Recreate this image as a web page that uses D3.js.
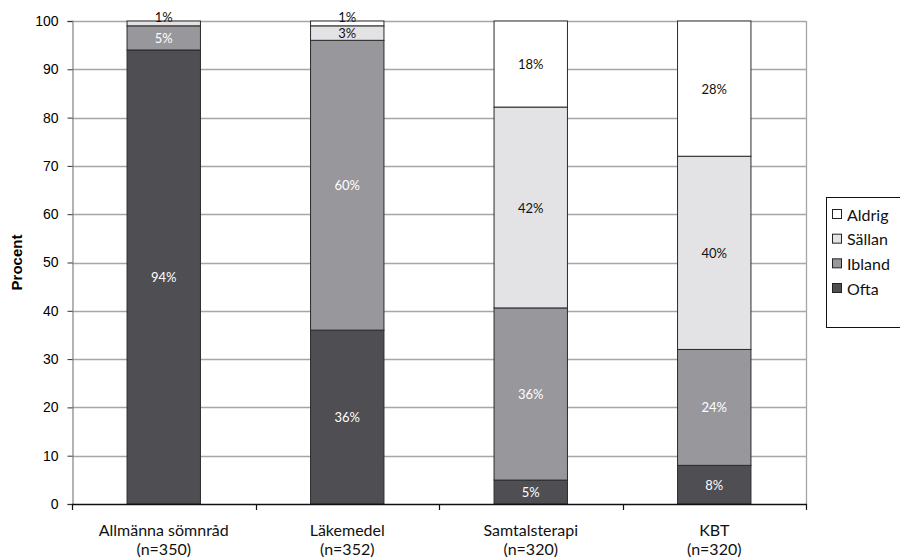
<!DOCTYPE html>
<html>
<head>
<meta charset="utf-8">
<script src="https://cdn.jsdelivr.net/npm/d3@7"></script>
<style>
  html, body { margin: 0; padding: 0; background: #fff; }
  svg { display: block; }
</style>
</head>
<body>
<svg id="chart" width="900" height="560"></svg>
<script>
// Categories (two-line labels) and stacked shares per answer, in percent
const categories = ["Allmänna sömnråd", "Läkemedel", "Samtalsterapi", "KBT"];
const sampleSizes = ["(n=350)", "(n=352)", "(n=320)", "(n=320)"];
const seriesNames = ["Ofta", "Ibland", "Sällan", "Aldrig"];
const ofta   = [94, 36, 5, 8];
const ibland = [5, 60, 36, 24];
const sallan = [1, 3, 42, 40];
const aldrig = [0, 1, 18, 28];
const yTicks = [0, 10, 20, 30, 40, 50, 60, 70, 80, 90, 100];

const colors = { "Ofta": "#4f4e53", "Ibland": "#98979c", "Sällan": "#e3e3e5", "Aldrig": "#ffffff" };
const labelColors = { "Ofta": "#ffffff", "Ibland": "#ffffff", "Sällan": "#111", "Aldrig": "#111" };

const rows = categories.map((c, i) => ({
  cat: c, "Ofta": ofta[i], "Ibland": ibland[i], "Sällan": sallan[i], "Aldrig": aldrig[i]
}));

const svg = d3.select("#chart");
const margin = { left: 72, right: 94, top: 21, bottom: 56 };
const W = 900, H = 560;
const plotR = W - margin.right, plotB = H - margin.bottom;
const labelFont = "Lato, 'Open Sans', sans-serif";

const x = d3.scaleBand().domain(categories).range([margin.left, plotR])
  .paddingInner(0.6).paddingOuter(0.3);
const y = d3.scaleLinear().domain([0, 100]).range([plotB, margin.top]);

// Shares are normalised to the bar total so every column fills 0–100
const stack = d3.stack().keys(seriesNames).offset(d3.stackOffsetExpand);
const layers = stack(rows);

// Gridlines
svg.append("g").selectAll("line").data(yTicks.filter(t => t > 0)).join("line")
  .attr("x1", margin.left).attr("x2", plotR)
  .attr("y1", d => Math.round(y(d)) + 0.5).attr("y2", d => Math.round(y(d)) + 0.5)
  .attr("stroke", "#a9a5a6").attr("stroke-width", 1.3);

// Right frame line of plot area
svg.append("line")
  .attr("x1", plotR + 0.5).attr("x2", plotR + 0.5)
  .attr("y1", margin.top).attr("y2", plotB)
  .attr("stroke", "#a9a5a6").attr("stroke-width", 1.3);

// Bars
const gBars = svg.append("g");
layers.forEach(layer => {
  gBars.append("g").selectAll("rect").data(layer.filter(d => d[1] - d[0] > 0)).join("rect")
    .attr("x", d => x(d.data.cat))
    .attr("width", x.bandwidth())
    .attr("y", d => y(d[1] * 100))
    .attr("height", d => y(d[0] * 100) - y(d[1] * 100))
    .attr("fill", colors[layer.key])
    .attr("stroke", "#2a2a2a").attr("stroke-width", 1);
});

// Data labels (very thin segments get their label nudged upward)
layers.forEach(layer => {
  svg.append("g").selectAll("text").data(layer.filter(d => d.data[layer.key] > 0)).join("text")
    .attr("x", d => x(d.data.cat) + x.bandwidth() / 2)
    .attr("y", d => {
      const c = (y(d[0] * 100) + y(d[1] * 100)) / 2;
      return (y(d[0] * 100) - y(d[1] * 100)) < 6 ? c - 6 : c;
    })
    .attr("text-anchor", "middle").attr("dominant-baseline", "central")
    .attr("font-family", labelFont).attr("font-size", 13)
    .attr("fill", labelColors[layer.key])
    .text(d => d.data[layer.key] + "%");
});

// Y axis
const yAxis = d3.axisLeft(y).tickValues(yTicks).tickSize(5).tickPadding(9);
const gy = svg.append("g").attr("transform", `translate(${margin.left + 0.5},0)`).call(yAxis);
gy.select(".domain").attr("stroke", "#8e8a8b").attr("stroke-width", 1.3);
gy.selectAll(".tick line").attr("stroke", "#333");
gy.selectAll(".tick text").attr("font-family", "'Liberation Sans', Arial, sans-serif")
  .attr("font-size", 14).attr("fill", "#000");

// X axis (baseline with ticks between categories)
svg.append("line")
  .attr("x1", margin.left).attr("x2", plotR + 1)
  .attr("y1", plotB + 0.5).attr("y2", plotB + 0.5)
  .attr("stroke", "#111").attr("stroke-width", 1.5);
const step = x.step();
const bounds = d3.range(categories.length + 1).map(i => x(categories[0]) - x.paddingOuter() * step + i * step);
svg.append("g").selectAll("line").data(bounds).join("line")
  .attr("x1", d => Math.round(d) + 0.5).attr("x2", d => Math.round(d) + 0.5)
  .attr("y1", plotB).attr("y2", plotB + 6)
  .attr("stroke", "#111").attr("stroke-width", 1.2);

// Category labels
const gCat = svg.append("g").attr("font-family", labelFont)
  .attr("font-size", 16).attr("fill", "#111").attr("text-anchor", "middle");
gCat.selectAll("text.c1").data(categories).join("text").attr("class", "c1")
  .attr("x", d => x(d) + x.bandwidth() / 2).attr("y", plotB + 32).text(d => d);
gCat.selectAll("text.c2").data(categories).join("text").attr("class", "c2")
  .attr("x", d => x(d) + x.bandwidth() / 2).attr("y", plotB + 51)
  .text((d, i) => sampleSizes[i]);

// Y axis title
svg.append("text")
  .attr("transform", `translate(22,${(margin.top + plotB) / 2}) rotate(-90)`)
  .attr("text-anchor", "middle")
  .attr("font-family", "'Liberation Sans', Arial, sans-serif")
  .attr("font-weight", "bold").attr("font-size", 15).attr("fill", "#000")
  .text("Procent");

// Legend
const legend = svg.append("g");
legend.append("rect").attr("x", 826.5).attr("y", 197.5).attr("width", 80).attr("height", 130)
  .attr("fill", "#fff").attr("stroke", "#111").attr("stroke-width", 1);
const legendItems = seriesNames.slice().reverse();
const ly = d3.scalePoint().domain(legendItems).range([214, 288]);
legend.selectAll("rect.sw").data(legendItems).join("rect").attr("class", "sw")
  .attr("x", 832.5).attr("y", d => ly(d) - 4.5).attr("width", 9).attr("height", 9)
  .attr("fill", d => colors[d]).attr("stroke", "#222").attr("stroke-width", 1);
legend.selectAll("text").data(legendItems).join("text")
  .attr("x", 847).attr("y", d => ly(d)).attr("dominant-baseline", "central")
  .attr("font-family", labelFont).attr("font-size", 16).attr("fill", "#111")
  .text(d => d);
</script>
</body>
</html>
